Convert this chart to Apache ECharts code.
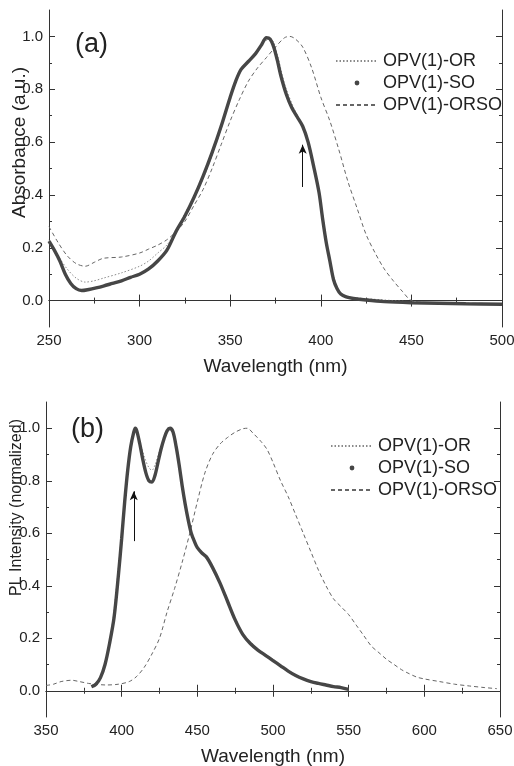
<!DOCTYPE html>
<html>
<head>
<meta charset="utf-8">
<script src="https://cdn.jsdelivr.net/npm/echarts@6/dist/echarts.min.js"></script>
<style>html,body{margin:0;padding:0;background:#fff}#c{width:514px;height:766px}</style>
</head>
<body>
<div id="c"></div>
<script>
// ---------- DATA ----------
const seriesNames = ['OPV(1)-OR', 'OPV(1)-SO', 'OPV(1)-ORSO'];
const panelLabels = ['(a)', '(b)'];
const xNames = ['Wavelength (nm)', 'Wavelength (nm)'];
const yNames = ['Absorbance (a.u.)', 'PL Intensity (normalized)'];
const xRangeA = [250, 500];
const xRangeB = [350, 650];
const yRange = [-0.1, 1.1];
const xTickStep = 50;
const yMajorTicks = [0, 0.2, 0.4, 0.6, 0.8, 1.0];
const yMinorTicks = [0.1, 0.3, 0.5, 0.7, 0.9];

// Panel (a): absorbance
const absSO_x = [250,253,256,259,262,265,268,272,276,280,285,290,295,300,305,310,315,320,325,330,335,340,345,350,353,356,360,364,367,370,372,374,376,378,381,384,387,390,393,396,399,401,403,405,407,409,411,414,418,425,435,450,465,480,500];
const absSO_y = [0.225,0.19,0.15,0.10,0.065,0.045,0.038,0.042,0.048,0.055,0.065,0.075,0.088,0.10,0.12,0.15,0.19,0.26,0.32,0.39,0.47,0.56,0.66,0.77,0.83,0.875,0.905,0.935,0.965,0.995,0.99,0.96,0.91,0.85,0.78,0.73,0.695,0.66,0.60,0.51,0.41,0.31,0.22,0.15,0.08,0.045,0.025,0.014,0.008,0.002,-0.004,-0.008,-0.010,-0.012,-0.014];
const absOR_x = [250,255,260,265,270,275,280,290,300,305,310,315,320,325,330,335,340,345,350,355,360,365,370,373,376,380,385,390,395,400,405,410,415,420,440,460,500];
const absOR_y = [0.23,0.17,0.12,0.085,0.07,0.075,0.085,0.105,0.13,0.15,0.18,0.21,0.26,0.33,0.39,0.46,0.55,0.65,0.76,0.86,0.905,0.94,0.985,0.985,0.93,0.82,0.73,0.66,0.54,0.37,0.15,0.035,0.015,0.01,0.0,-0.008,-0.014];
const absORSO_x = [250,255,260,265,270,275,280,290,300,305,310,315,320,325,330,335,340,345,350,355,360,365,370,375,380,383,386,390,395,400,405,410,415,420,425,430,435,440,445,450,460,480,500];
const absORSO_y = [0.28,0.22,0.17,0.14,0.13,0.145,0.16,0.165,0.18,0.195,0.21,0.23,0.26,0.30,0.36,0.42,0.50,0.59,0.68,0.76,0.83,0.88,0.92,0.96,0.995,1.0,0.99,0.96,0.88,0.77,0.68,0.57,0.45,0.35,0.25,0.18,0.12,0.075,0.035,0.0,-0.008,-0.01,-0.012];

// Panel (b): photoluminescence
const plSO_x = [380,383,386,389,392,395,398,400,402,404,406,408,409,410,412,414,416,418,420,422,424,426,428,430,432,434,436,438,440,442,444,446,448,450,453,456,460,465,470,475,480,485,490,495,500,505,510,515,520,525,530,535,540,545,550];
const plSO_y = [0.015,0.025,0.05,0.10,0.18,0.28,0.45,0.58,0.72,0.84,0.93,0.985,1.0,0.99,0.94,0.88,0.83,0.80,0.795,0.82,0.87,0.92,0.96,0.99,1.0,0.985,0.93,0.86,0.78,0.71,0.65,0.60,0.57,0.545,0.525,0.51,0.47,0.41,0.34,0.27,0.215,0.18,0.155,0.135,0.115,0.095,0.075,0.058,0.045,0.035,0.028,0.022,0.016,0.012,0.005];
const plOR_x = [380,385,390,394,397,400,403,406,409,412,415,418,420,422,426,430,432,436,440,445,450,460,470,480,490,500,510,520,530,540,550];
const plOR_y = [0.02,0.04,0.12,0.26,0.42,0.60,0.79,0.94,1.0,0.95,0.89,0.85,0.84,0.86,0.93,0.99,1.0,0.94,0.79,0.63,0.55,0.47,0.34,0.22,0.16,0.12,0.078,0.047,0.03,0.018,0.007];
const plORSO_x = [350,355,360,367,372,378,382,390,398,405,410,415,420,425,430,435,440,445,450,455,460,465,470,475,480,483,487,492,496,500,505,510,515,520,525,530,535,540,545,550,555,560,565,570,575,580,585,590,595,600,610,620,630,640,648];
const plORSO_y = [0.02,0.025,0.035,0.04,0.035,0.028,0.025,0.022,0.025,0.035,0.055,0.09,0.14,0.20,0.30,0.39,0.49,0.60,0.72,0.83,0.90,0.94,0.965,0.985,0.998,1.0,0.98,0.95,0.92,0.87,0.80,0.74,0.67,0.60,0.53,0.46,0.40,0.35,0.32,0.29,0.25,0.21,0.17,0.145,0.12,0.10,0.08,0.065,0.052,0.045,0.035,0.025,0.018,0.012,0.008];

// arrow annotations [x, yStart, yEnd]
const arrowA = [390, 0.43, 0.59];
const arrowB = [408, 0.57, 0.76];

// ---------- CHART ----------
const zip = (xs, ys) => xs.map((x, i) => [x, ys[i]]);
const FONT = "'Liberation Sans', Arial, Helvetica, sans-serif";
const INK = '#222';
const axisLineStyle = { color: '#333', width: 1 };

function xAxes(grid, range, top) {
  return {
    type: 'value', gridIndex: grid, position: top ? 'top' : 'bottom',
    min: range[0], max: range[1], interval: xTickStep,
    name: top ? '' : xNames[grid], nameLocation: 'middle', nameGap: 30, nameMoveOverlap: false,
    nameTextStyle: { fontFamily: FONT, fontSize: 19, color: INK },
    axisLine: { show: true, lineStyle: axisLineStyle },
    axisTick: { show: true, inside: true, length: 6, lineStyle: axisLineStyle },
    minorTick: { show: true, splitNumber: 2, length: 3, lineStyle: axisLineStyle },
    axisLabel: { show: !top, margin: 6, fontFamily: FONT, fontSize: 15, color: INK },
    splitLine: { show: false }, minorSplitLine: { show: false }
  };
}
function yAxisMain(grid, right, name, nameSize, shift, gap) {
  return {
    type: 'value', gridIndex: grid, position: right ? 'right' : 'left',
    min: yRange[0], max: yRange[1],
    name: right ? '' : name, nameLocation: 'middle', nameGap: gap || 0, nameMoveOverlap: false,
    nameTextStyle: { fontFamily: FONT, fontSize: nameSize, color: INK, padding: [0, 0, 0, shift] },
    axisLine: { show: true, lineStyle: axisLineStyle },
    axisTick: { show: true, inside: true, length: 6, lineStyle: axisLineStyle, customValues: yMajorTicks },
    axisLabel: { show: !right, margin: 6, fontFamily: FONT, fontSize: 15, color: INK,
      customValues: yMajorTicks, formatter: v => v.toFixed(1) },
    splitLine: { show: false }
  };
}
function yAxisMinor(grid, right) {
  return {
    type: 'value', gridIndex: grid, position: right ? 'right' : 'left',
    min: yRange[0], max: yRange[1],
    axisLine: { show: false },
    axisTick: { show: true, inside: true, length: 3, lineStyle: axisLineStyle, customValues: yMinorTicks },
    axisLabel: { show: false }, splitLine: { show: false }
  };
}

const styleOR = { color: '#8a8a8a', width: 1, type: [1.5, 2] };
const styleSO = { color: '#464646', width: 3.4 };
const styleORSO = { color: '#666', width: 1, type: [4, 3] };

function mkSeries(name, data, xi, yi, ls, extra) {
  return Object.assign({
    type: 'line', name, data, xAxisIndex: xi, yAxisIndex: yi,
    smooth: 0.3, symbol: 'none', lineStyle: ls, itemStyle: { color: ls.color },
    emphasis: { disabled: true }, animation: false
  }, extra || {});
}
function arrow(a) {
  return {
    silent: true, symbol: ['none', 'arrow'], symbolSize: [6, 9], label: { show: false },
    lineStyle: { color: '#111', width: 1, type: 'solid' },
    data: [[{ coord: [a[0], a[1]] }, { coord: [a[0], a[2]] }]]
  };
}
const soExtra = a => ({ symbol: 'circle', symbolSize: 4, showSymbol: false, markLine: arrow(a) });

function legendFor(left, top) {
  return {
    orient: 'vertical', left, top, itemWidth: 42, itemHeight: 6, itemGap: 4,
    selectedMode: false,
    textStyle: { fontFamily: FONT, fontSize: 18, color: INK },
    data: [
      { name: seriesNames[0], itemStyle: { opacity: 0 } },
      { name: seriesNames[1], lineStyle: { opacity: 0 } },
      { name: seriesNames[2], itemStyle: { opacity: 0 } }
    ]
  };
}

const option = {
  backgroundColor: '#fff',
  animation: false,
  textStyle: { fontFamily: FONT },
  title: [
    { text: panelLabels[0], left: 75, top: 31, padding: 0, textStyle: { fontFamily: FONT, fontSize: 27, fontWeight: 'normal', color: INK } },
    { text: panelLabels[1], left: 71, top: 416, padding: 0, textStyle: { fontFamily: FONT, fontSize: 27, fontWeight: 'normal', color: INK } }
  ],
  legend: [legendFor(330, 47), legendFor(325, 432)],
  grid: [
    { left: 49, top: 10, width: 453, height: 317, outerBoundsMode: 'none' },
    { left: 46, top: 402, width: 454, height: 315, outerBoundsMode: 'none' }
  ],
  xAxis: [xAxes(0, xRangeA, false), xAxes(0, xRangeA, true), xAxes(1, xRangeB, false), xAxes(1, xRangeB, true)],
  yAxis: [
    yAxisMain(0, false, yNames[0], 19, 52, 20), yAxisMinor(0, false), yAxisMain(0, true), yAxisMinor(0, true),
    yAxisMain(1, false, yNames[1], 16, 104, 21), yAxisMinor(1, false), yAxisMain(1, true), yAxisMinor(1, true)
  ],
  series: [
    mkSeries(seriesNames[0], zip(absOR_x, absOR_y), 0, 0, styleOR),
    mkSeries(seriesNames[2], zip(absORSO_x, absORSO_y), 0, 0, styleORSO),
    mkSeries(seriesNames[1], zip(absSO_x, absSO_y), 0, 0, styleSO, soExtra(arrowA)),
    mkSeries(seriesNames[0], zip(plOR_x, plOR_y), 2, 4, styleOR),
    mkSeries(seriesNames[2], zip(plORSO_x, plORSO_y), 2, 4, styleORSO),
    mkSeries(seriesNames[1], zip(plSO_x, plSO_y), 2, 4, styleSO, soExtra(arrowB))
  ]
};
const chart = echarts.init(document.getElementById('c'), null, { renderer: 'canvas' });
chart.setOption(option);
</script>
</body>
</html>
